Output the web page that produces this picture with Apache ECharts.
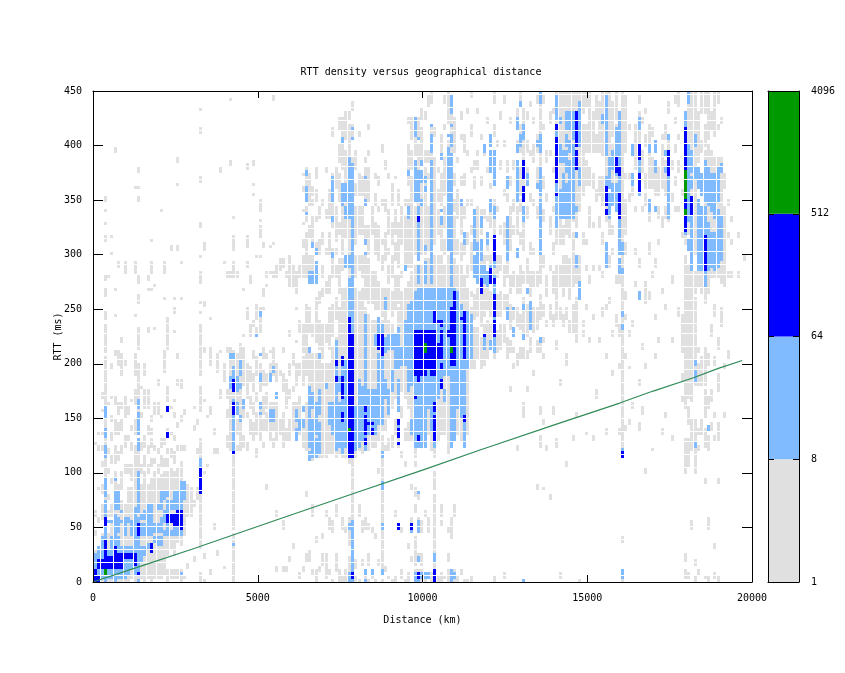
<!DOCTYPE html>
<html><head><meta charset="utf-8">
<script src="https://cdn.jsdelivr.net/npm/echarts@6/dist/echarts.min.js"></script>
<style>html,body{margin:0;padding:0;background:#fff}#c{width:845px;height:673px}</style></head>
<body><div id="c"></div>
<script>
// each run list: [distance km, rttLow, rttHigh, rttLow, rttHigh, ...]
const greyRuns = [
[0,0,30,42,48,60,66,126,129],[100,0,33,54,60,84,87,120,126,135,138],
[200,0,45,57,70,81,90,105,111,120,124,135,138,156,159,170,172],
[300,0,130,140,160,163,206,212,236,241,248,261,270,278,280,313,318,328,330,340,342,350,352],
[400,0,45,60,66,75,80,100,105,118,122,162,165,280,282],[500,0,55,62,70,92,96,110,116,130,136,148,151,168,171,197,199,300,302,316,318],
[600,0,100,110,125,135,150,162,170,208,212,244,246,268,270,395,397],[700,0,90,113,119,135,145,155,165,200,212,290,292],
[800,0,75,85,100,118,125,140,148,160,164,191,209,221,224],[900,0,70,100,106,125,135,151,171,200,203,284,286,290,292],
[1000,0,85,100,106,130,135,155,160],[1100,3,85,95,108,120,128,138,142,165,168],
[1200,0,125,135,150,162,175,191,209,244,246,284,286,290,292,361,363],[1300,0,130,135,160,165,200,215,232,255,263,273,280,348,353,361,363,377,379],
[1400,3,88,100,106,120,128,150,154,178,180],[1500,0,100,106,115,125,135,160,176,191,200],
[1600,3,90,100,108,118,126,135,142,160,176,229,234,268,270,278,281],[1700,0,95,105,112,125,130,136,140,148,152,268,270,284,292,313,315],
[1800,3,100,108,112,120,124,155,165,232,234,271,273],[1900,5,95,100,108,118,122,155,165,182,184],
[2000,3,98,105,116,125,130,150,153,340,342],[2100,6,100,107,112,128,132,193,213,258,260,284,292],
[2200,0,10,25,100,106,112,118,122,135,140,165,178,215,241],[2300,3,12,30,105,115,122,135,138,160,162,305,307],
[2400,3,10,25,100,108,118,130,134,150,154,165,168,228,231,247,250,258,260],[2500,3,12,38,105,120,125,143,146,180,184,206,208,305,307,364,366,386,388],
[2600,0,10,35,110,122,126,148,152,179,185,258,260,292,294],[2700,3,6,42,92,120,124,155,158],
[2800,12,16,60,90],[2900,60,85],[3000,20,24,70,75,140,143,160,162],[3100,75,85,118,122,145,150],
[3200,0,8,32,130,157,180,191,235,247,249,256,258,273,284,298,300,326,328,368,370,413,415,432,434],[3300,0,3,22,26,100,102,165,168,212,215,254,256,305,312],
[3400,105,108,150,152],[3500,6,10,155,160,200,215,240,243],[3600,50,54,118,121,135,140],[3700,25,30,118,122,192,209],
[3800,170,176,210,212,377,379],[3900,12,15,185,200,292,294],[4000,125,135,150,158,170,176,210,214,280,284],
[4100,120,215,280,283,383,385,441,443],[4200,0,45,50,118,120,212,280,292,304,316,334,336],[4300,120,125,135,150,165,210,280,283],
[4400,120,200,205,218],[4500,125,135,150,165,180,216,225,228,268,270],[4600,120,128,150,155,170,200,240,250,290,292,306,316,379,384],
[4700,135,150,160,170,185,198,225,235,275,282],[4800,130,145,155,165,175,190,205,212,235,240,355,357,364,366,383,385],
[4900,115,122,135,155,165,172,190,205,226,232,240,255,298,300],[5000,130,165,175,200,230,250,298,300,316,326,331,333,340,350],
[5100,125,128,140,150,155,170,180,195,205,215,250,252,262,270,306,311],[5200,85,88,140,155,160,172,180,190,205,210,270,273,280,285],
[5300,130,165,185,200,210,212,282,285,307,309],[5400,125,130,140,165,190,215,280,284,310,312,443,445],
[5500,10,14,60,64,130,165,185,200,280,290],[5600,135,150,190,195,285,296],[5700,10,15,50,55,125,155,175,190,210,215,290,295],
[5800,10,14,130,140,160,185,280,285],[5900,20,24,130,150,170,175,190,200,225,230,270,298],[6000,30,34,140,165,175,178,200,210,270,290],
[6100,135,165,180,200,220,222,250,252,265,285],[6200,5,9,135,170,190,200,230,240,280,290],
[6300,10,13,125,150,180,205,212,235,280,300,306,313,328,330,340,342,359,361,373,375],[6400,20,25,80,84,120,165,190,255,280,320,330,345,350,380],
[6500,20,30,115,215,230,250,280,300,315,325,345,375],[6600,6,12,60,72,113,210,225,235,275,300,310,335,345,350,355,362],
[6700,0,12,36,42,115,210,220,260,275,290,300,310,330,336,350,360,370,380],[6800,10,15,115,210,215,240,255,265,300,315,335,345],
[6900,15,25,40,45,115,200,205,235,262,268,280,290,310,320,345,350],[7000,5,25,60,65,115,200,220,235,265,275,300,305,335,340,375,380],
[7100,6,12,50,60,118,200,215,250,265,280,300,320,335,360],[7200,0,3,45,55,118,215,225,255,280,305,325,375,410,415],
[7300,10,25,60,70,115,225,240,260,280,290,300,305,312,345,360,380],[7400,0,12,118,250,265,295,320,330,350,375,385,400,415,425],
[7500,0,5,50,60,115,270,285,295,300,345,350,365,380,405,410,425],[7600,0,10,45,50,115,270,288,300,315,350,365,395,405,430],
[7700,0,24,34,60,110,345,355,420,425,432],[7800,0,115,115,390,405,420,432,440],[7900,0,5,12,20,115,270,280,300,310,345,355,365,380,395],
[8000,0,3,60,70,120,265,285,300,320,345,355,375,410,413],[8100,15,20,45,55,118,270,280,300,320,345,355,370],[8200,3,9,50,60,120,250,260,300,312,325,345,380,385,390],
[8300,0,3,15,25,50,54,120,245,255,295,300,325,350,380,390,395,415,420],[8400,3,12,45,50,125,140,150,240,255,285,320,345],
[8500,0,3,40,45,125,150,165,240,250,285,300,330,345,355,370,375],[8600,15,20,100,103,130,240,250,275,295,325,340,345,365,370],
[8700,0,3,6,50,53,85,91,135,140,240,245,270,285,300,310,315,345,350,395,400],[8800,10,15,120,125,140,270,295,320,340,350,380,385],
[8900,3,6,120,130,150,240,250,270,275,290,300,305,320,340,370,375],[9000,0,3,125,135,160,235,245,265,280,300,310,330,345,365],
[9100,0,5,60,65,135,150,170,225,250,280,295,310,320,340,370,372],[9200,125,145,160,250,255,280,290,330,345,360],
[9300,5,12,45,50,115,118,150,160,175,265,280,285,310,345],[9400,0,3,105,110,130,140,170,270,285,335,345,350],
[9500,0,8,30,34,130,145,160,175,190,275,290,350,365,400,420,426],[9600,18,22,45,60,85,90,130,285,290,370,378,395,405,425],
[9700,0,10,15,40,65,70,80,85,105,110,115,290,300,345,360,385,390,420],[9800,0,10,20,25,55,60,75,80,130,290,295,400,405,425],
[9900,0,10,15,25,45,55,130,290,300,375,385,415,425,435],[10000,0,8,60,64,135,295,300,380,385,395,425,430],
[10100,3,8,45,60,135,295,305,345,370,375,385,395,435,445],[10200,0,8,120,300,305,405,410,420,440,448],
[10300,0,20,25,80,85,100,115,300,310,390,410,415],[10400,0,6,130,300,320,340,350,360,375,380],
[10500,0,8,52,56,60,70,135,300,305,330,345,375,395,410],[10600,3,6,135,290,300,315,325,345,355,390,415,420,440,445],
[10700,0,10,20,25,45,50,118,300,305,380,385,405,420,450],[10800,0,10,40,60,130,300,305,445],
[10900,0,12,60,70,135,295,300,335,340,350,365,375,395,425],[11000,0,6,135,290,300,315,335,360,385,390],
[11100,6,12,130,290,295,310,320,350,365,370,405,410,425,430],[11200,0,3,125,280,300,310,335,345,365,375,395,410],
[11300,0,3,135,270,280,290,310,320,345,350,390,395,430,435],[11400,0,6,195,250,262,265,285,310,320,325,345,350,375,380,410,420,445,450],
[11500,195,232,240,262,285,300,305,335,360,370,380,385],[11600,205,232,245,268,285,295,305,345,380,385,390,395,430,435],
[11700,195,225,235,270,280,295,300,305,320,340,365,370,405,410],[11800,200,235,245,275,290,300,335,340,390,395],[11900,205,240,250,280,295,300,305,310,330,335,375,380,420,425],
[12000,215,235,245,265,275,300,325,345,360,365],[12100,0,5,205,230,240,295,315,350,365,370,380,395,410,420,440,450],[12200,210,230,245,262,280,300,340,345,400,405],
[12300,215,235,245,265,285,300,320,325,380,385,425,430],[12400,5,8,220,235,250,262,270,290,310,330,355,360,400,405,440,445],[12500,205,225,240,262,280,300,310,335,350,355,375,385],
[12600,175,180,210,220,232,255,265,280,305,345,365,370,420,425],[12700,195,200,210,215,240,252,270,285,320,325,340,350,380,385],
[12800,120,125,200,210,235,250,265,280,320,345,355,375,400,405,420,435],[12900,205,215,232,245,265,290,310,320,340,350,355,380,395,420,435,450],[13000,0,3,150,165,205,215,225,260,275,285,305,345,355,405,415,435],
[13100,175,180,205,212,225,255,275,295,335,345,365,380,395,405,425,430],[13200,210,225,262,285,300,310,350,355,390,395,435,440],
[13300,190,195,230,250,270,285,300,305,345,350,385,400,420,425],[13400,85,90,210,220,232,252,270,285,335,345,365,380,395,410,440,445],
[13500,125,135,155,160,210,225,240,262,275,300,320,450],[13600,85,87,145,150,205,210,220,225,245,255,290,300,330,340,360,370,415,420,440,445],
[13700,120,125,235,240,262,280,350,355,385,395],[13800,75,80,240,255,285,290,320,335,390,395,420,430],
[13900,155,160,235,245,265,285,300,310,340,345,375,380,430,435],[14000,125,130,215,220,240,290,310,450],[14100,5,8,180,186,240,250,270,290,310,450],
[14200,235,245,262,300,310,325,345,450],[14300,105,110,200,210,240,250,270,300,320,450],[14400,230,240,260,295,315,450],[14500,130,135,230,255,270,320,330,450],
[14600,150,155,220,260,275,300,325,450],[14700,0,3,260,300,340,450],[14800,225,230,235,240,310,320,355,420,430,450],[14900,135,138,250,255,285,290,310,315,365,385,395,420,435,450],
[15000,220,225,275,280,325,345,365,380,395,450],[15100,130,133,240,245,285,290,325,330,360,375,395,430],[15200,170,175,350,360,395,410,425,445],
[15300,220,225,285,290,325,335,355,370,395,440],[15400,245,250,280,285,310,320,345,370,390,450],[15500,135,140,205,210,250,255,290,300,330,450],
[15600,255,260,290,300,320,350,365,450],[15700,190,195,225,230,300,305,320,325,350,400,410,440],[15800,235,245,275,280,350,420,425,450],
[15900,135,140,195,200,225,235,275,290,310,315,350,425],[16000,0,4,10,12,38,40,115,450],[16100,138,142,205,210,240,245,260,265,300,310,320,350,370,375,395,445],
[16200,145,150,195,198,225,230,350,355,370,375,415,420],[16300,160,165,235,240,355,375],[16400,270,275,300,305,340,345,380,420],
[16500,140,145,180,185,290,295,390,430,440,445],[16600,155,160,215,218,340,345,375,395,420,425],[16700,100,105,195,200,255,275,345,355,360,375,400,410,430,435],
[16800,260,265,300,310,330,345,360,420],[16900,120,123,280,285,360,390,410,415],[17000,205,210,240,245,290,295,340,345,355,385],
[17100,220,225,310,315,335,345,355,380],[17200,135,140,265,270,325,335,360,400,405,410],[17300,150,155,250,255,335,345,355,385,405,420],
[17400,330,350,365,375,395,410,430,440],[17500,130,135,220,225,275,280,350,355,380,385],[17600,340,345,365,370,395,400,420,425,440,445],
[17700,245,250,340,345,375,385,405,410,435,450],[17800,165,170,185,190,210,245,315,320,355,360],[17900,5,10,20,25,100,130,160,300,310,345,370,430],
[18000,5,8,105,130,145,160,170,290,320,335,390,450],[18100,50,55,120,150,165,350,355,450],[18200,0,5,15,20,100,150,180,260,265,285,300,450],
[18300,8,12,120,125,135,140,180,200,210,215,270,290,330,345,385,430],[18400,135,150,180,205,265,285,395,405,430,450],
[18500,3,6,90,95,125,140,150,175,180,215,255,395,400,420,430,450],[18600,0,6,50,60,120,135,160,170,200,210,265,400,405,450],
[18700,140,145,165,175,225,235,280,395,415,430],[18800,5,8,30,35,130,135,150,155,200,205,245,255,280,390,410,450],
[18900,2,5,90,95,130,145,175,190,215,225,280,390,415,420,440,450],[19000,235,250,275,390,420,425],[19100,150,155,195,200,270,345,360,375],
[19200,205,212,280,285,315,320,345,350],[19300,280,285,310,315,330,335],[19500,280,283,315,320],[19700,295,300]
];
const lightRuns = [
[0,0,27],[100,0,33],[200,3,40],[300,0,60,62,75,78,94,115,125,133,139,150,160],[400,3,30,55,57],[500,3,42,54,57],
[600,0,62,66,84,93,96],[700,3,42,45,60,66,84],[800,3,33,54,57,63,66],[900,3,33,42,60],[1000,6,33,54,60],[1100,12,33,42,57],
[1200,6,14,15,69],[1300,0,3,6,60,63,100,81,84,120,130,135,155,160,167],[1400,18,33,42,54,57,63],[1500,25,33,42,54,57,66],
[1600,30,36,42,72],[1700,30,36,42,72],[1800,36,42,45,54],[1900,35,42,45,54,66,72],[2000,35,42,45,60,66,84],[2100,42,48,54,66,75,84],
[2200,42,54,62,75,78,84],[2300,42,48,54,62,66,75],[2400,42,62,66,84],[2500,42,62,66,84],[2600,6,8,42,92],[2700,75,92],
[3200,81,113],[4100,177,188,205,209],[4200,33,36,120,135,137,167,174,196,205,209],[4300,153,165,176,188],[4400,148,153,178,181,190,203],[4500,160,166],
[4900,225,228],[5000,153,156,160,163,183,192,207,209,243,249],[5300,148,158,183,192],[5400,148,158,192,197],[5500,170,174],
[6100,130,140,148,158],[6200,140,150],[6300,142,150,158,162],[6400,336,339,350,362,372,377],[6500,113,118,123,180,211,215,273,284],[6600,115,150,160,172,273,284,306,312],
[6700,115,130,135,165,274,294,300,304],[6800,118,145,155,175,205,210],[7000,178,182],[7100,145,165],[7200,135,148,150,165,298,303,330,335,350,372],
[7300,120,222],[7400,125,165,175,188],[7500,118,207,347,365,403,408],[7600,125,203,290,300,335,345,348,365],[7700,0,3,5,8,50,53,115,277,290,300,335,390],
[7800,0,3,8,57,115,280,273,384,405,408,414,417],[7900,120,160],[8000,125,185],[8100,130,180],[8200,0,3,6,12,120,245,300,303,310,315,345,350,370,372],
[8300,135,176],[8400,6,11,143,175],[8500,135,175,218,228],[8600,145,167,170,208,228,243],[8700,7,10,50,53,84,91,115,118,145,167,170,235],[8800,170,185,211,225,250,260],
[8900,155,175,215,226],[9000,175,195,215,226],[9100,197,228],[9200,140,150,156,185,197,232],[9300,200,215],[9400,200,240,286,290],
[9500,176,255,335,345,372,378],[9600,47,53,135,150,180,258],[9700,0,3,5,8,125,267,350,385,410,425],
[9800,0,3,20,22,47,57,81,83,125,270,273,290,295,335,336,344,350,378,405,408],[9900,5,8,125,195,200,270,347,350,367,377,382,387],[10000,5,8,125,190,195,270,273,293,304,309,358,361,367,372],
[10100,5,8,160,270],[10200,140,270,273,350,350,385,393,411,417,420],[10300,0,3,20,25,125,270],[10400,170,270],
[10500,180,270,327,335,339,342,388,391],[10600,165,175,190,270],[10700,190,270,304,333,335,386,388,399,408,411],[10800,0,3,5,12,125,382,382,391,399,411,417,420,429,446],
[10900,5,8,130,270],[11000,160,265],[11100,150,255,345,350],[11200,125,248,310,320],
[11300,197,248],[11400,205,245],[11500,280,300,305,340],[11600,273,300,300,312],[11700,280,290,295,315,325,335],[11800,215,225,275,290,395,400],[11900,270,285,310,320],
[12000,215,222,280,290,340,350,375,395,400,410],[12100,211,243,265,280,290,310,335,345,365,395],[12500,240,250,295,335,360,370],[12700,227,232,250,252],
[12800,298,305,350,370,370,385,395,400,415,425],[12900,400,410,435,440],[13000,0,3,223,226,250,255,330,345,375,385,405,420],[13100,265,270,365,375],[13200,231,257],
[13400,360,365,400,405],[13500,220,225,300,350,355,380,395,410,440,450],[14000,325,390,395,420,425,445],[14100,335,360,385,400,420,425],[14200,335,375,385,395],
[14300,335,365,375,395,400,410,415,430],[14400,335,385,395,405,415,430],[14500,335,400,405,430],[14600,290,300,315,320,340,345,400,405],[14700,260,275,365,380,400,440],
[15400,420,428],[15500,290,310,360,370,390,445],[15600,335,355,360,390],[15700,345,365,380,395],[15800,340,365,372,415],[15900,283,295,300,335,356,430],
[16000,5,11,118,121,233,236,245,248,284,287,300,310],[16300,365,375,390,400],[16500,260,265,355,360,375,400,415,425],[16800,340,350,395,400],
[17000,340,345,375,385,395,405],[17300,375,380,390,395],[17400,335,385,405,410],[17900,320,322,410,430],
[18000,305,315,330,400,440,450],[18100,285,340,360,370,375,395],[18200,125,127,185,188,190,193,200,204,370,380,400,410],[18300,286,350,360,380],
[18400,285,345,355,375],[18500,270,285,320,345,350,385],[18600,140,143,285,330,345,380],[18700,290,320,340,375],[18800,285,320,335,375],
[18900,290,340,350,380],[19000,295,335,375,382]
];
const blueRuns = [
[0,0,12],[100,0,6,12,20],[200,12,20],[300,12,32,23,38,51,53,54,60],[400,12,23],[500,12,23],[600,12,32],[700,12,26],[800,12,26],[900,21,27],[1000,21,27],[1100,21,27],
[1200,15,20,21,26],[1300,6,8,42,54],[1700,29,36],[2200,54,62,134,137,158,161],[2300,54,62],[2400,51,62],[2500,51,66],[2600,48,66],[3200,81,104],[4200,117,120,153,156,157,165,174,186],
[7300,184,189,199,204],[7500,148,155,170,189,199,207],[7700,115,139,141,243],[7800,5,8,115,227],[8200,127,131,136,145,148,153,158,162],
[8300,144,146],[8400,136,139,144,146],[8600,214,227],[8700,208,227],[9200,50,52,126,129,132,140,145,148],[9600,50,53],[9700,169,171,190,230],[9800,5,8,130,133,184,188,190,230,332,335],
[9900,190,230],[10000,190,230],[10100,195,230],[10200,190,231],[10300,0,3,5,11,130,135,137,147,148,153,157,165,190,231,237,248],[10400,205,219,237,239],[10500,178,184,196,199,205,231,234,238],
[10700,225,230],[10800,200,251],[10900,199,267],[11100,240,243],[11200,148,153,205,248],[11700,266,277],[11800,225,227],[12000,273,288],[12100,227,229,231,240,243,264,275,279,294,318],
[13000,350,356,358,361,370,376,378,385],[14000,354,356,367,378,379,387,388,396,397,408,416,420],[14600,380,387,388,396,400,430],
[15500,338,342,345,361],[15800,375,388],[15900,333,336,336,356,372,380],[16000,115,118],[16500,358,375,388,402],[17400,372,396],
[17900,321,336,343,350,378,386,388,417],[18100,336,354],[18500,285,318]
];
const greenRuns = [[300,6,12],[7700,139,141],[10000,211,214,217,219],[10800,212,214],[17900,336,342,351,377]];
// reference line
const lineKm = [0,1500,3000,5675,8000,10000,11745,12038,14000,15987,17000,18200,19000,19704];
const lineMs = [0,15,30,58,82,102.5,121,124,144,164,175,187,196,203];
// colour box
const levelNames = ['grey','light','blue','green'];
const levelColors = ['#e0e0e0','#80bbff','#0000ff','#009900'];
const boxEdges = [1,8,64,512,4096];
const xTitle = 'Distance (km)', yTitle = 'RTT (ms)', chartTitle = 'RTT density versus geographical distance';

const cells = new Map();
[greyRuns,lightRuns,blueRuns,greenRuns].forEach((list,lvl)=>{
  list.forEach(r=>{
    for(let i=1;i+1<r.length;i+=2){
      const lo=Math.min(r[i],r[i+1]),hi=Math.max(r[i],r[i+1]);
      for(let m=Math.floor(lo/3)*3;m<hi&&m<450;m+=3){ cells.set(r[0]+'|'+m,[r[0],m,lvl]); }
    }
  });
});
const cellData=[...cells.values()];
const font={fontFamily:'"DejaVu Sans Mono",monospace',fontSize:10,color:'#000'};
const line={show:true,onZero:false,lineStyle:{color:'#000',width:1}};
const plain=v=>String(v);
const chart=echarts.init(document.getElementById('c'),null,{renderer:'canvas'});
chart.setOption({
  animation:false,backgroundColor:'#fff',
  title:{text:chartTitle,left:416,top:62,textAlign:'center',textStyle:{...font,fontWeight:'normal'}},
  grid:[{left:93,top:91,width:659,height:491},{left:768,top:91,width:31,height:491}],
  xAxis:[
    {gridIndex:0,z:10,type:'value',min:0,max:20000,interval:5000,position:'bottom',name:xTitle,nameLocation:'middle',nameGap:33,nameTextStyle:font,
     axisLine:line,axisTick:{inside:true,length:7,lineStyle:{color:'#000'}},axisLabel:{...font,margin:11,formatter:plain},splitLine:{show:false}},
    {gridIndex:0,z:10,type:'value',min:0,max:20000,interval:5000,position:'top',axisLine:line,axisTick:{inside:true,length:7,lineStyle:{color:'#000'}},axisLabel:{show:false},splitLine:{show:false}},
    {gridIndex:1,z:10,type:'value',min:0,max:1,position:'bottom',axisLine:line,axisTick:{show:false},axisLabel:{show:false},splitLine:{show:false}},
    {gridIndex:1,z:10,type:'value',min:0,max:1,position:'top',axisLine:line,axisTick:{show:false},axisLabel:{show:false},splitLine:{show:false}}
  ],
  yAxis:[
    {gridIndex:0,z:10,type:'value',min:0,max:450,interval:50,position:'left',name:yTitle,nameLocation:'middle',nameGap:30,nameMoveOverlap:false,nameRotate:90,nameTextStyle:font,
     axisLine:line,axisTick:{inside:true,length:10,lineStyle:{color:'#000'}},axisLabel:{...font,margin:11},splitLine:{show:false}},
    {gridIndex:0,z:10,type:'value',min:0,max:450,interval:50,position:'right',axisLine:line,axisTick:{inside:true,length:10,lineStyle:{color:'#000'}},axisLabel:{show:false},splitLine:{show:false}},
    {gridIndex:1,z:10,type:'log',logBase:8,min:1,max:4096,position:'right',axisLine:line,axisTick:{inside:true,length:6,lineStyle:{color:'#000'}},axisLabel:{...font,margin:12,formatter:plain},splitLine:{show:false},minorTick:{show:false}},
    {gridIndex:1,z:10,type:'log',logBase:8,min:1,max:4096,position:'left',axisLine:line,axisTick:{inside:true,length:6,lineStyle:{color:'#000'}},axisLabel:{show:false},splitLine:{show:false},minorTick:{show:false}}
  ],
  series:[
    {type:'custom',name:'RTT density',xAxisIndex:0,yAxisIndex:0,coordinateSystem:'cartesian2d',progressive:0,silent:true,
     data:cellData,encode:{x:0,y:1},clip:true,
     renderItem:(p,api)=>{
       const c=api.coord([api.value(0),api.value(1)]);
       return {type:'rect',shape:{x:Math.round(c[0])+1,y:Math.round(c[1])-3,width:3,height:3},style:{fill:levelColors[api.value(2)]}};
     }},
    {type:'line',name:'line',xAxisIndex:0,yAxisIndex:0,data:lineKm.map((k,i)=>[k,lineMs[i]]),symbol:'none',lineStyle:{color:'#2e8b57',width:1.2},z:5,silent:true},
    {type:'custom',name:'colour box',xAxisIndex:2,yAxisIndex:2,coordinateSystem:'cartesian2d',silent:true,
     data:levelColors.map((c,i)=>[0,boxEdges[i],1,boxEdges[i+1],i]),encode:{x:[0,2],y:[1,3]},
     renderItem:(p,api)=>{
       const a=api.coord([0,api.value(1)]),b=api.coord([1,api.value(3)]);
       return {type:'rect',shape:{x:a[0],y:b[1],width:b[0]-a[0],height:a[1]-b[1]},style:{fill:levelColors[api.value(4)]}};
     }}
  ]
});
</script></body></html>
